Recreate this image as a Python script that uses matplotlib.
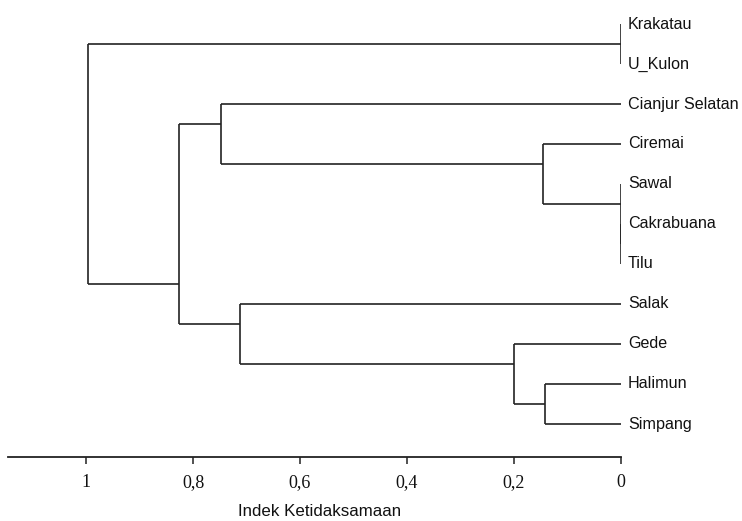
import matplotlib
matplotlib.use("Agg")
import matplotlib.pyplot as plt
import matplotlib.transforms as mtransforms

# leaf names, top to bottom
leaves = ["Krakatau", "U_Kulon", "Cianjur Selatan", "Ciremai", "Sawal",
          "Cakrabuana", "Tilu", "Salak", "Gede", "Halimun", "Simpang"]

# linkage, scipy style: (child a, child b, height); new nodes get ids 11, 12, ...
merge_a = [0, 5, 4, 3, 9, 8, 2, 7, 17, 11]
merge_b = [1, 6, 12, 13, 10, 15, 14, 16, 18, 19]
merge_h = [0.0, 0.0, 0.0, 0.146, 0.142, 0.200, 0.748, 0.712, 0.827, 0.997]

ticks = [1, 0.8, 0.6, 0.4, 0.2, 0]
tick_labels = ["1", "0,8", "0,6", "0,4", "0,2", "0"]
xlabel = "Indek Ketidaksamaan"

LINE = "#222222"
SANS = ["Liberation Sans", "DejaVu Sans"]
SERIF = ["Liberation Serif", "DejaVu Serif"]

n = len(leaves)
first_leaf = {i: i for i in range(n)}
last_leaf = {i: i for i in range(n)}
attach = {i: float(i) for i in range(n)}
height = {i: 0.0 for i in range(n)}

fig = plt.figure(figsize=(7.42, 5.21), dpi=100)
ax = fig.add_axes([8 / 742, (521 - 457) / 521, (621 - 8) / 742, (457 - 14) / 521])

for k, (a, b, h) in enumerate(zip(merge_a, merge_b, merge_h)):
    node = n + k
    first_leaf[node] = first_leaf[a]
    last_leaf[node] = last_leaf[b]
    height[node] = h
    # branch joins between the two sub-clusters
    attach[node] = (last_leaf[a] + first_leaf[b]) / 2
    for c in (a, b):
        ax.plot([height[c], h], [attach[c], attach[c]], color=LINE, lw=1.2,
                solid_capstyle="butt")
    ax.plot([h, h], [attach[a], attach[b]], color=LINE, lw=1.2,
            solid_capstyle="butt")

lbl_tr = mtransforms.offset_copy(ax.transData, fig=fig, x=7, y=0, units="dots")
for i, name in enumerate(leaves):
    ax.text(0, i, name, transform=lbl_tr, ha="left", va="center",
            fontsize=11.6, family=SANS, color="#111111", clip_on=False)

ax.set_xlim(1.146, 0)
ax.set_ylim(10.825, -0.25)
for s in ["top", "right", "left"]:
    ax.spines[s].set_visible(False)
ax.spines["bottom"].set_linewidth(1.3)
ax.spines["bottom"].set_color(LINE)
ax.set_yticks([])
ax.set_xticks(ticks)
ax.set_xticklabels(tick_labels, family=SERIF, fontsize=13)
ax.tick_params(axis="x", direction="out", length=5, width=1.1, color=LINE,
               pad=7, labelcolor="#111111")

fig.text(320 / 742, 1 - 512 / 521, xlabel, ha="center", va="center",
         fontsize=12.2, family=SANS, color="#111111")

fig.savefig("out.png", dpi=100)
